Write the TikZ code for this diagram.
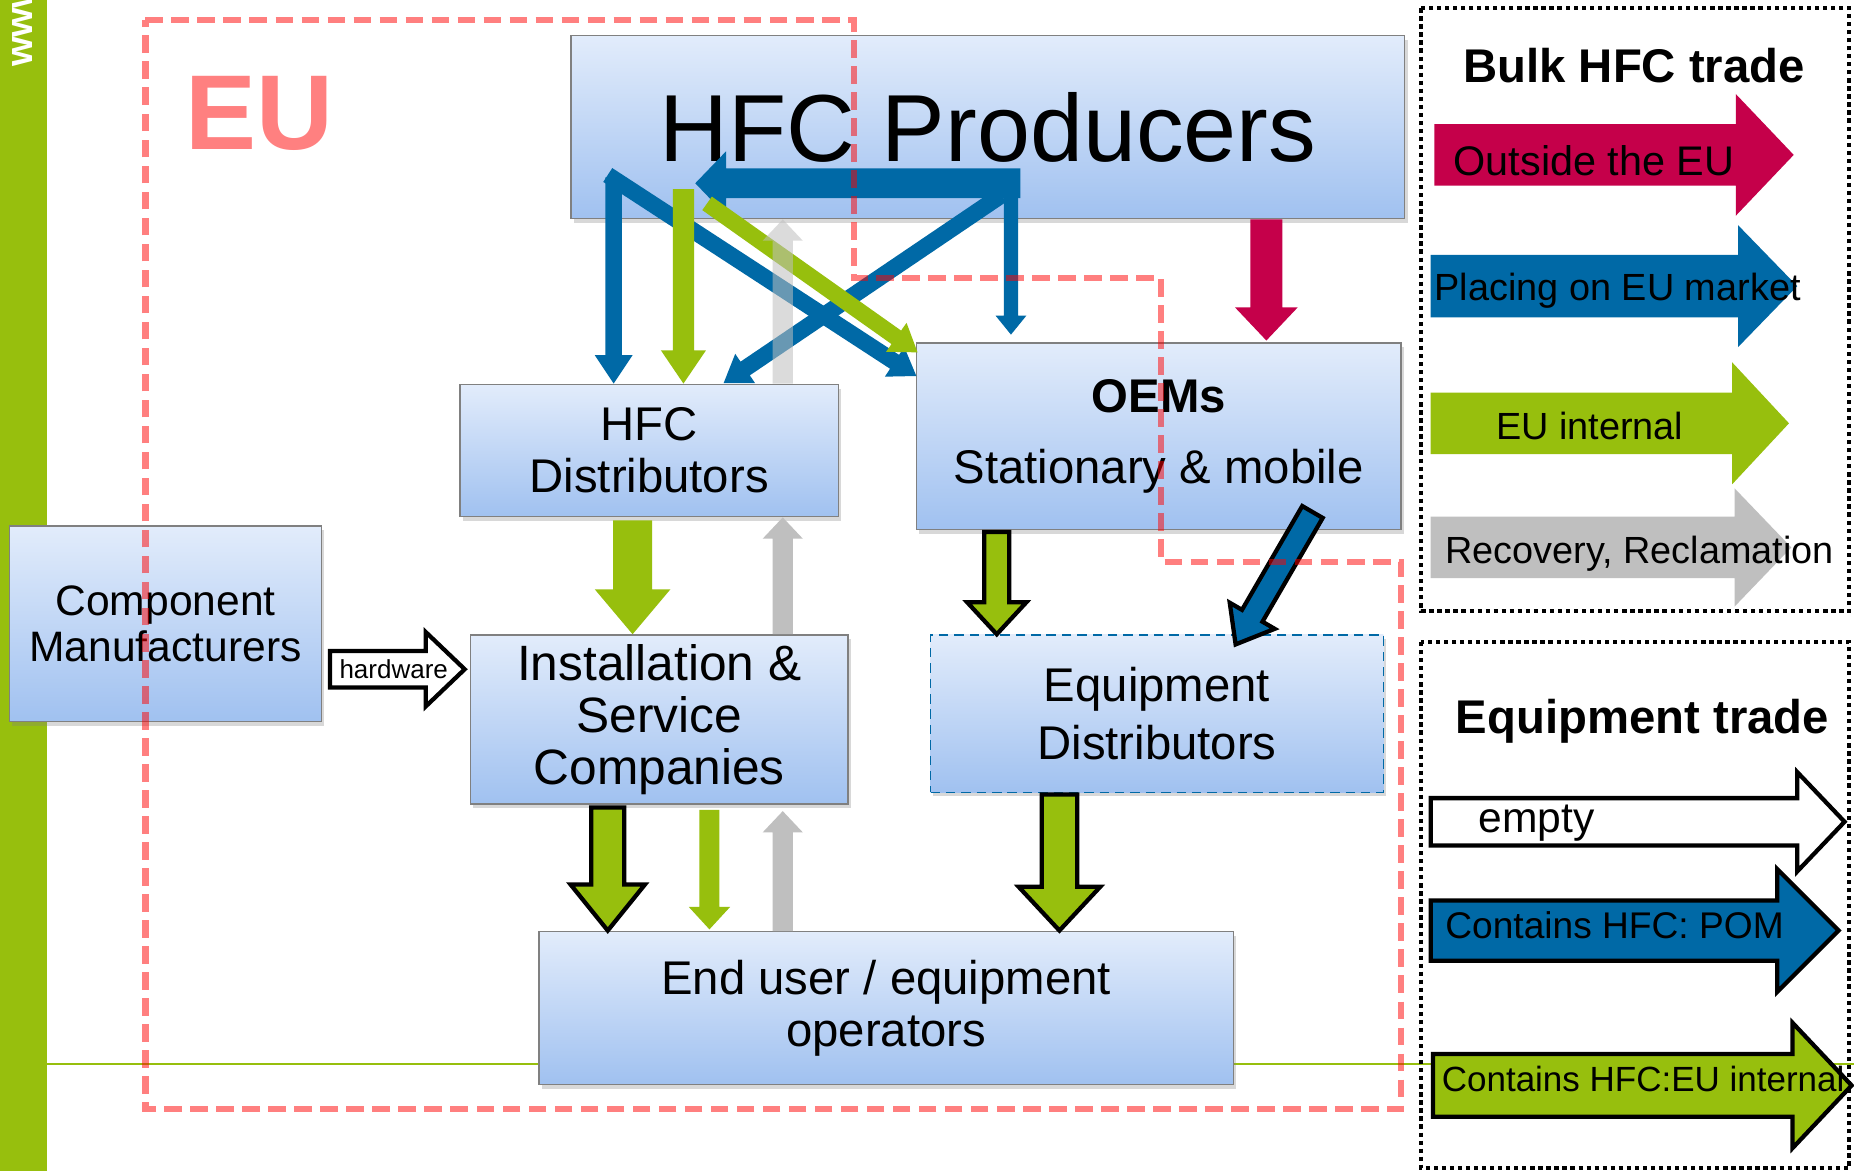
\documentclass[tikz,border=0pt]{standalone}
\usepackage{fontspec}
\setmainfont{Liberation Sans}
\usetikzlibrary{calc,shadows}
\definecolor{pomblue}{RGB}{0,105,166}
\definecolor{eugreen}{RGB}{151,191,13}
\definecolor{crimson}{RGB}{197,0,74}
\definecolor{recgray}{RGB}{191,191,191}
\definecolor{salmon}{RGB}{255,128,128}
\definecolor{boxtop}{RGB}{226,236,251}
\definecolor{boxbot}{RGB}{160,193,240}
\definecolor{boxline}{RGB}{128,128,128}
% block arrow: #1 style, #2 from, #3 to, #4 shaft width, #5 head width, #6 head length
\newcommand{\blockarrow}[6]{%
  \coordinate (bah) at ($(#3)!#6!(#2)$);
  \path[#1] ($(#2)!#4/2!90:(#3)$) -- ($(bah)!#4/2!90:(#3)$) -- ($(bah)!#5/2!90:(#3)$) -- (#3)
    -- ($(bah)!#5/2!-90:(#3)$) -- ($(bah)!#4/2!-90:(#3)$) -- ($(#2)!#4/2!-90:(#3)$) -- cycle;}
\begin{document}
\begin{tikzpicture}[x=0.5pt,y=-0.5pt,
  box/.style={draw=boxline, line width=0.6pt, top color=boxtop, bottom color=boxbot,
    drop shadow={shadow xshift=1.2pt, shadow yshift=-1.8pt, opacity=0.3},
    align=center, inner sep=0pt},
  pom/.style={fill=pomblue},
  pomb/.style={fill=pomblue, draw=black, line width=1.8pt, line join=miter},
  grn/.style={fill=eugreen},
  grnb/.style={fill=eugreen, draw=black, line width=1.8pt, line join=miter},
  rec/.style={fill=recgray},
  recop/.style={fill=recgray, fill opacity=0.55},
  outeu/.style={fill=crimson},
  emptyarr/.style={fill=white, draw=black, line width=1.8pt, line join=miter},
  legbox/.style={draw=black, line width=1.8pt, dash pattern=on 1.8pt off 1.6pt},
  legtxt/.style={anchor=base west, inner sep=0pt, text=black},
  eudash/.style={draw=red, draw opacity=0.5, line width=2.6pt, dash pattern=on 7.5pt off 3.5pt}
]
\useasboundingbox (0,0) rectangle (1568,990);
\fill[white] (0,0) rectangle (1568,990);
% left green bar and horizontal line
\fill[eugreen] (0,0) rectangle (40,990);
\node[rotate=90, anchor=west, text=white, inner sep=0pt,
  font=\bfseries\fontsize{16}{16}\selectfont] (www) at (19,57) {www};
\coordinate (gl1) at (40,900);
\coordinate (gl2) at (1568,900);
\draw[eugreen, line width=1pt] (gl1) -- (gl2);

% legend: bulk HFC trade
\draw[legbox] (1202,7) rectangle (1564,517);
\node[anchor=base, inner sep=0pt, font=\bfseries\fontsize{20}{20}\selectfont] (bulkt) at (1382,70) {Bulk HFC trade};
\coordinate (L1s) at (1213,131); \coordinate (L1e) at (1517,131);
\coordinate (L2s) at (1210,242); \coordinate (L2e) at (1520,242);
\coordinate (L3s) at (1210,358); \coordinate (L3e) at (1513,358);
\coordinate (L4s) at (1210,463); \coordinate (L4e) at (1515,463);
\blockarrow{outeu}{L1s}{L1e}{26pt}{51.5pt}{24.5pt}
\blockarrow{pom}{L2s}{L2e}{26.5pt}{51.5pt}{25pt}
\blockarrow{grn}{L3s}{L3e}{26pt}{51.5pt}{24pt}
\blockarrow{rec}{L4s}{L4e}{26pt}{50pt}{24pt}
\node[legtxt, font=\fontsize{17.5}{17.5}\selectfont] (t1) at (1229,148.5) {Outside the EU};
\node[legtxt, font=\fontsize{16}{16}\selectfont] (t2) at (1213,254.5) {Placing on EU market};
\node[legtxt, font=\fontsize{16}{16}\selectfont] (t3) at (1265,371.5) {EU internal};
\node[legtxt, font=\fontsize{16}{16}\selectfont] (t4) at (1222,476.5) {Recovery, Reclamation};

% legend: equipment trade
\draw[legbox] (1202,543) rectangle (1564,988);
\node[anchor=base, inner sep=0pt, font=\bfseries\fontsize{20}{20}\selectfont] (eqt) at (1389,620) {Equipment trade};
\coordinate (E1s) at (1210,695); \coordinate (E1e) at (1560,695);
\coordinate (E2s) at (1210,787); \coordinate (E2e) at (1555,787);
\coordinate (E3s) at (1212,918); \coordinate (E3e) at (1566,918);
\blockarrow{emptyarr}{E1s}{E1e}{20pt}{42pt}{20pt}
\blockarrow{pomb}{E2s}{E2e}{25.5pt}{52pt}{26pt}
\blockarrow{grnb}{E3s}{E3e}{26.5pt}{53pt}{25pt}
\node[legtxt, font=\fontsize{18}{18}\selectfont] (t5) at (1250,704) {empty};
\node[legtxt, font=\fontsize{15.7}{15.7}\selectfont] (t6) at (1222,794) {Contains HFC: POM};
\node[legtxt, font=\fontsize{14.8}{14.8}\selectfont] (t7) at (1219,923.5) {Contains HFC:EU internal};

% boxes
\node[box, minimum width=352.5pt, minimum height=77.5pt, font=\fontsize{40.3}{40.3}\selectfont]
  (prod) at (835.5,107.5) {HFC Producers};
\node[box, minimum width=160pt, minimum height=56pt, font=\fontsize{20}{22}\selectfont]
  (hfcd) at (549,381) {HFC\\Distributors};
\node[box, minimum width=205pt, minimum height=79pt, font=\fontsize{20}{23}\selectfont]
  (oem) at (980,369) {\textbf{OEMs}\\[7pt]Stationary \& mobile};
\node[box, minimum width=132pt, minimum height=82.5pt, font=\fontsize{18}{19.5}\selectfont]
  (comp) at (140,527.5) {Component\\Manufacturers};
\node[box, minimum width=159.5pt, minimum height=71.5pt, font=\fontsize{21}{22}\selectfont]
  (inst) at (557.5,608.5) {Installation \&\\Service\\Companies};
\node[box, draw=pomblue, dash pattern=on 4pt off 2.5pt, minimum width=191.5pt, minimum height=66.5pt,
  font=\fontsize{20}{24.5}\selectfont]
  (eqd) at (978.5,603.5) {Equipment\\Distributors};
\node[box, minimum width=293.5pt, minimum height=64.5pt, font=\fontsize{20}{22}\selectfont]
  (endu) at (749.5,852.5) {End user / equipment\\operators};

% flow arrows
\coordinate (gx) at (662,0);
\coordinate (qx) at (1071,0);
\coordinate (a1) at (519,150);  \coordinate (a2) at (a1 |- hfcd.north);
\coordinate (b1) at (514,148);  \coordinate (b2) at (775,318);
\coordinate (c1) at (863,155);  \coordinate (c2) at (588,155);
\coordinate (d1) at (855,160);  \coordinate (d2) at (855,283);
\coordinate (e1) at (847,165);  \coordinate (e2) at (612,324);
\coordinate (f1) at (578,160);  \coordinate (f2) at (f1 |- hfcd.north);
\coordinate (g1) at (598,172);  \coordinate (g2) at (776,298);
\coordinate (h1) at (gx |- hfcd.north); \coordinate (h2) at (gx |- prod.south);
\coordinate (i1) at (gx |- inst.north); \coordinate (i2) at (gx |- hfcd.south);
\coordinate (j1) at (gx |- endu.north); \coordinate (j2) at (662,686);
\coordinate (k1) at (535,440);  \coordinate (k2) at (k1 |- inst.north);
\coordinate (l1) at (843,450);  \coordinate (l2) at (l1 |- eqd.north);
\coordinate (m1) at (514,683);  \coordinate (m2) at (514,787);
\coordinate (n1) at (600,685);  \coordinate (n2) at (600,786);
\coordinate (o1) at (896,672);  \coordinate (o2) at (896,787);
\coordinate (p1) at (1110,433); \coordinate (p2) at (1045,545);
\coordinate (q1) at (qx |- prod.south); \coordinate (q2) at (1071,288);
\coordinate (hw1) at (279,566); \coordinate (hw2) at (393,566);

\blockarrow{pom}{a1}{a2}{7pt}{16pt}{12pt}
\blockarrow{pom}{b1}{b2}{7pt}{15pt}{11pt}
\blockarrow{pom}{c1}{c2}{12.5pt}{27pt}{13pt}
\blockarrow{pom}{d1}{d2}{6pt}{13pt}{8pt}
\blockarrow{pom}{e1}{e2}{7pt}{15pt}{11pt}
\blockarrow{grn}{f1}{f2}{9pt}{19pt}{14pt}
\blockarrow{grn}{g1}{g2}{7pt}{15pt}{11pt}
\blockarrow{recop}{h1}{h2}{8.5pt}{17pt}{9pt}
\blockarrow{rec}{i1}{i2}{8.5pt}{17pt}{9pt}
\blockarrow{rec}{j1}{j2}{8.5pt}{17pt}{9pt}
\blockarrow{grn}{k1}{k2}{16.5pt}{32pt}{19pt}
\blockarrow{grnb}{l1}{l2}{10.5pt}{25pt}{13.5pt}
\blockarrow{grnb}{m1}{m2}{14pt}{31.5pt}{19.5pt}
\blockarrow{grn}{n1}{n2}{8.5pt}{17.5pt}{9.5pt}
\blockarrow{grnb}{o1}{o2}{15pt}{34.5pt}{18.5pt}
\blockarrow{pomb}{p1}{p2}{10pt}{22pt}{14pt}
\blockarrow{outeu}{q1}{q2}{13.5pt}{26.5pt}{14pt}
\blockarrow{emptyarr}{hw1}{hw2}{15.5pt}{31.5pt}{16.5pt}
\node[inner sep=0pt, font=\fontsize{11}{11}\selectfont] (hwt) at (333,566) {hardware};

% EU border
\draw[eudash] (123,17) -- (722,17) -- (722,235) -- (982,235) -- (982,475) -- (1185,475)
  -- (1185,938) -- (123,938) -- cycle;
\node[text=salmon, inner sep=0pt, font=\bfseries\fontsize{45}{45}\selectfont] (eu) at (219,96) {EU};
\end{tikzpicture}
\end{document}
